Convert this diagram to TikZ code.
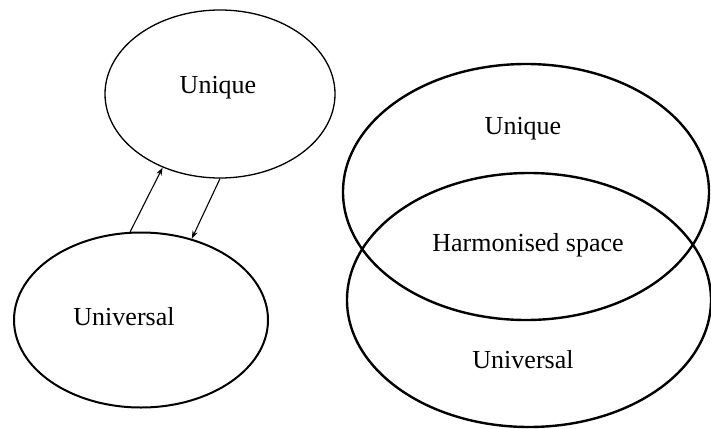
\documentclass[tikz,border=0pt]{standalone}
\usepackage{fontspec}
\setmainfont{Liberation Serif}
\usetikzlibrary{shapes.geometric,arrows.meta}
\begin{document}
\begin{tikzpicture}[x=1pt,y=-1pt,
  oval/.style={draw=black,ellipse,inner sep=0pt,fill=none},
  lbl/.style={font=\fontsize{26}{30}\selectfont,inner sep=0pt},
  link/.style={draw=black,line width=1.1pt,-{Stealth[length=8pt,width=5.5pt]}}]
\useasboundingbox (0,0) rectangle (711,428);
\fill[white] (0,0) rectangle (711,428);
% left pair
\node[oval,line width=1.3pt,minimum width=230pt,minimum height=168pt] (uq) at (220,94) {};
\node[oval,line width=2pt,minimum width=254pt,minimum height=175pt] (uv) at (141,320) {};
\node[lbl] (tuq) at (218,88) {Unique};
\node[lbl] (tuv) at (124,317) {Universal};
\draw[link] (uv.97) -- (uq.232.6);
\draw[link] (uq.270.7) -- (uv.58.4);
% right pair
\node[oval,line width=2.4pt,minimum width=366pt,minimum height=256pt] (ruq) at (526,192) {};
\node[oval,line width=2.4pt,minimum width=364pt,minimum height=254pt] (ruv) at (529,300) {};
\node[lbl] (truq) at (523,129) {Unique};
\node[lbl] (ths) at (528,245) {Harmonised space};
\node[lbl] (truv) at (523,360) {Universal};
\end{tikzpicture}
\end{document}
